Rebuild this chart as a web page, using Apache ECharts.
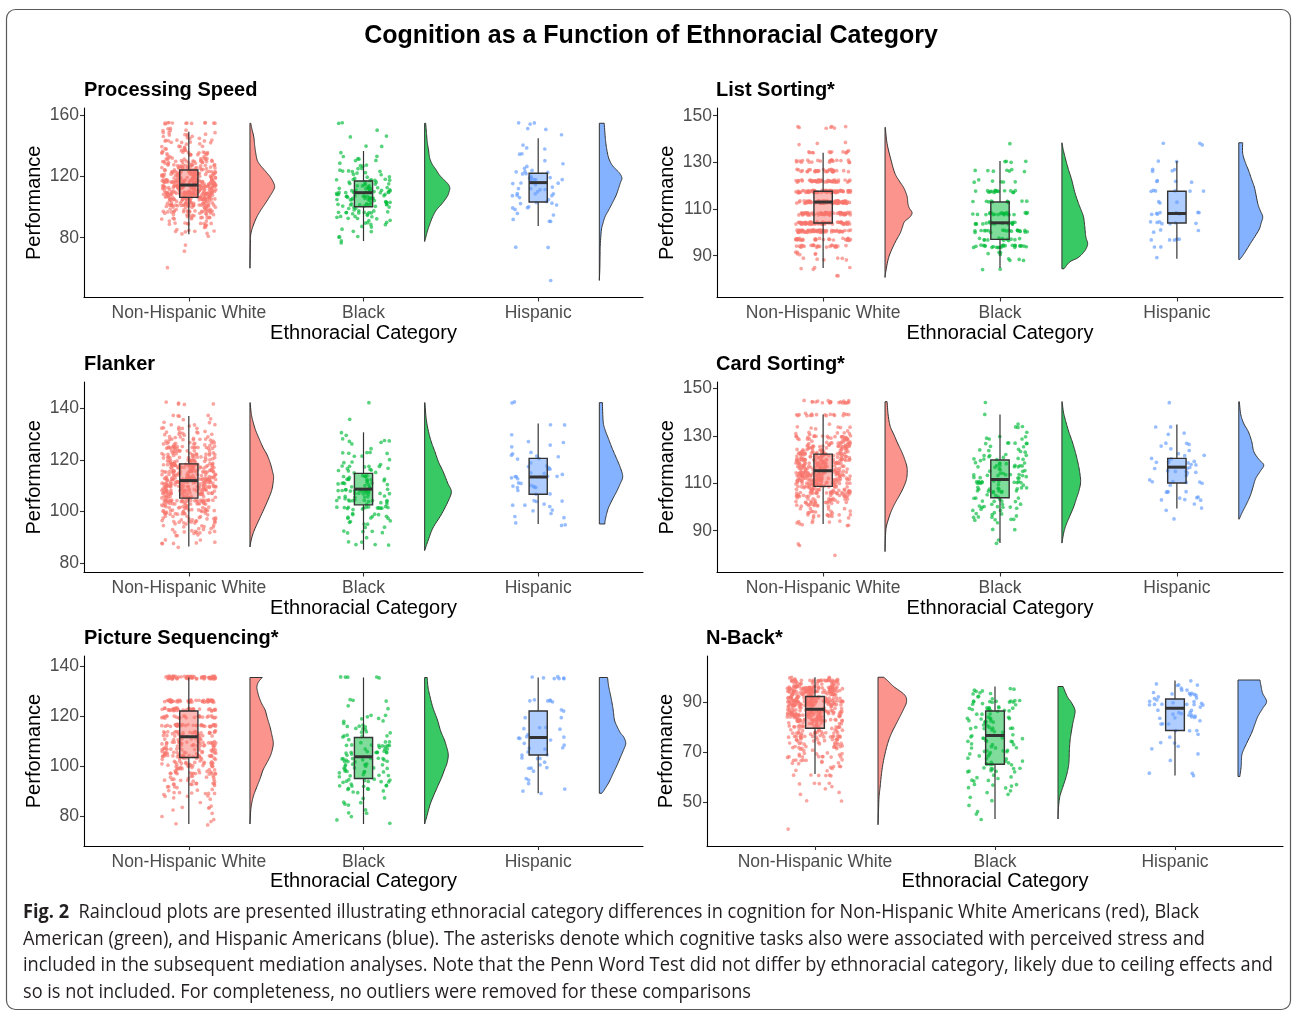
<!DOCTYPE html>
<html><head><meta charset="utf-8">
<script src="https://cdn.jsdelivr.net/npm/echarts@6/dist/echarts.min.js"></script>
<style>
html,body{margin:0;padding:0;background:#fff;}
#chart{position:absolute;left:0;top:0;width:1292px;height:1012px;}
.cl{position:absolute;left:23px;white-space:nowrap;transform-origin:0 50%;font-family:"Open Sans",sans-serif;font-size:19.5px;line-height:26px;height:26px;color:#231f20;}
</style></head>
<body>
<div id="chart"></div>
<div class="cl" data-w="1176" style="top:898px"><b>Fig. 2</b>&nbsp; Raincloud plots are presented illustrating ethnoracial category differences in cognition for Non-Hispanic White Americans (red), Black</div>
<div class="cl" data-w="1182" style="top:925px">American (green), and Hispanic Americans (blue). The asterisks denote which cognitive tasks also were associated with perceived stress and</div>
<div class="cl" data-w="1250" style="top:951px">included in the subsequent mediation analyses. Note that the Penn Word Test did not differ by ethnoracial category, likely due to ceiling effects and</div>
<div class="cl" data-w="728" style="top:978px">so is not included. For completeness, no outliers were removed for these comparisons</div>
<script>
// ---------------- DATA ----------------
const categories = ['Non-Hispanic White', 'Black', 'Hispanic'];
const panelTitles = ['Processing Speed', 'List Sorting*', 'Flanker', 'Card Sorting*', 'Picture Sequencing*', 'N-Back*'];
const mainTitle = 'Cognition as a Function of Ethnoracial Category';
const xTitle = 'Ethnoracial Category';
const yTitle = 'Performance';

// y tick labels per panel
const psTicks = [80, 120, 160];
const lsTicks = [90, 110, 130, 150];
const flTicks = [80, 100, 120, 140];
const csTicks = [90, 110, 130, 150];
const pqTicks = [80, 100, 120, 140];
const nbTicks = [50, 70, 90];

// box stats per group: [lower whisker, Q1, median, Q3, upper whisker]
const psBox = [[82.2,106.4,114.5,124.4,149.5],[77.8,100.3,109.5,117.2,136.8],[87.6,103.4,116.1,122.2,145.1]];
const lsBox = [[84.7,104,113,117.6,134.1],[84.7,97,104.1,113,130.6],[88.7,104,108.1,117.6,130.6]];
const flBox = [[86.5,105.2,112,118.5,137],[85.2,102.6,108.7,114.8,130.7],[95.2,106.7,113.4,120.6,134.1]];
const csBox = [[92.8,108.7,115.3,122.3,139],[84.8,103.9,111.6,119.8,139],[99.4,110.1,116.8,120.5,134.8]];
const pqBox = [[76.7,103.3,111.6,121.9,135.3],[76.7,94.9,103.6,111.3,135.3],[89,104.3,111.3,121.9,135.3]];
const nbBox = [[61.3,79.6,87.2,92.3,100],[43.3,65.2,76.7,86.5,96.3],[60.7,78.7,87.6,91.3,98.7]];

// raw points as [score, count]: "Bins" = 4-point-wide score bins, "Rows" = exact repeated scores
const psBins = [
  [[61,1],[73,1],[76,1],[82,4],[86,7],[90,12],[94,20],[98,30],[102,44],[106,55],[110,65],[114,68],[118,62],[122,50],[126,38],[130,27],[134,20],[138,15],[142,12],[146,10],[150,8]],
  [[78,2],[82,3],[86,5],[90,7],[94,10],[98,14],[102,18],[106,20],[110,20],[114,17],[118,13],[122,8],[126,6],[130,5],[134,3],[138,1],[142,1],[146,2],[151,1]],
  [[52,1],[72,2],[90,3],[94,2],[98,3],[102,6],[106,5],[110,6],[114,7],[118,8],[122,6],[126,3],[130,2],[134,2],[138,2],[142,1],[146,1],[150,2]]
];
const psRows = [[[155,12]], [[155,2]], [[155,3]]];

const lsBins = [[], [], []];
const lsRows = [
  [[81,2],[84.5,4],[88.5,6],[91,6],[94,25],[97,30],[100.5,60],[104,65],[108,70],[113,85],[117.5,70],[122,45],[126.5,32],[130.5,22],[134.5,12],[138,3],[145,7]],
  [[84.5,2],[88.5,4],[91,4],[94,25],[97,12],[100.5,20],[104,18],[108,22],[113,10],[117.5,16],[122,6],[126.5,7],[130.5,4],[138,1]],
  [[89,1],[94,2],[97,5],[100.5,3],[104,7],[108,9],[113,3],[117.5,6],[122,4],[126.5,4],[130.5,2],[138,3]]
];

const flBins = [
  [[88,8],[92,16],[96,28],[100,42],[104,58],[108,72],[112,78],[116,72],[120,58],[124,42],[128,28],[132,16],[136,8]],
  [[86,3],[90,5],[94,8],[98,12],[102,20],[106,26],[110,24],[114,16],[118,12],[122,8],[126,6],[130,3],[135,1]],
  [[96,4],[100,5],[104,6],[108,8],[112,9],[116,8],[120,6],[124,4],[128,3],[133,2]]
];
const flRows = [[[142,5]], [[142,1]], [[142,2]]];

const csBins = [
  [[81,1],[84,1],[86,1],[94,12],[98,22],[102,36],[106,55],[110,70],[114,78],[118,74],[122,62],[126,48],[130,32],[134,8]],
  [[86,2],[90,2],[94,8],[98,12],[102,14],[106,16],[110,18],[114,18],[118,16],[122,14],[126,10],[130,6],[134,4]],
  [[100,3],[104,6],[108,5],[112,7],[116,10],[120,9],[124,4],[128,3],[132,3],[135,1]]
];
const csRows = [[[139,18],[144.4,20]], [[139,1],[144.4,1]], [[95,1],[144.4,1]]];

const pqBins = [
  [[77,3],[80,3],[84,6],[88,12],[92,18],[96,30],[100,38],[104,48],[108,50],[112,45]],
  [[78,3],[82,3],[86,6],[90,10],[94,14],[98,16],[102,18],[106,17],[110,14],[114,10],[118,7],[122,4]],
  [[90,3],[94,3],[98,4],[102,5],[106,6],[110,8],[114,5]]
];
const pqRows = [
  [[116.1,35],[119.5,25],[122.5,35],[125.9,45],[135.3,60]],
  [[126,3],[135.3,5]],
  [[119,2],[122,2],[126,6],[135.3,7]]
];

const nbBins = [
  [[41,1],[49.5,2],[54,3],[58,5],[62,10],[66,15],[70,22],[74,30],[78,42],[82,60],[86,80],[90,100],[94,100],[98,60]],
  [[44,1],[46,2],[50,3],[54,5],[58,9],[62,12],[66,12],[70,13],[74,13],[78,13],[82,14],[86,17],[90,15],[94,10]],
  [[61,3],[66,1],[70,2],[74,3],[78,5],[82,7],[86,10],[90,14],[94,10],[97.5,6]]
];
const nbRows = [[], [], []];

// half-violin densities: [score, relative density]
const psDens = [
  [[60,0],[70,0.01],[78,0.02],[83,0.04],[89,0.15],[94,0.28],[98,0.42],[103,0.62],[107,0.77],[110,0.88],[113,0.96],[116,0.92],[120,0.78],[124,0.58],[128,0.38],[131,0.28],[136,0.22],[141,0.18],[146,0.15],[151,0.08],[155,0.03]],
  [[77.5,0],[80.6,0.05],[85,0.12],[89.4,0.21],[94,0.32],[98,0.45],[102,0.66],[107,0.88],[110,0.95],[112.5,0.98],[115,0.92],[118,0.75],[121,0.58],[124.4,0.45],[128,0.3],[132,0.2],[137.5,0.15],[143,0.1],[149,0.07],[155,0.04]],
  [[52,0],[60,0.02],[70,0.03],[76,0.04],[85,0.08],[90,0.15],[94,0.23],[98,0.36],[102.5,0.5],[108,0.66],[113.4,0.77],[116,0.82],[119,0.88],[122,0.8],[124.4,0.67],[128,0.48],[133,0.35],[140,0.27],[146,0.23],[155,0.19]]
];
const lsDens = [
  [[80.7,0],[83.9,0.04],[89.6,0.15],[95.3,0.37],[99.6,0.58],[102,0.66],[104.6,0.75],[106.5,0.95],[108.4,1.04],[110.5,0.93],[112.4,0.88],[115.3,0.85],[118.9,0.73],[122,0.55],[125.3,0.38],[131,0.23],[138,0.08],[145,0.01]],
  [[84.4,0.08],[87.4,0.31],[89,0.6],[91,0.8],[93,0.93],[95.3,0.99],[98.1,0.92],[102.4,0.88],[106.7,0.83],[109.5,0.74],[112.4,0.64],[117,0.5],[122.4,0.38],[127,0.25],[131,0.15],[135,0.06],[138.4,0]],
  [[88.4,0.04],[91,0.21],[95.3,0.45],[101,0.77],[104,0.86],[106.7,0.92],[109.5,0.82],[112.4,0.73],[118.9,0.61],[122.5,0.5],[126.7,0.37],[130,0.25],[133.9,0.15],[138.4,0.15]]
];
const flDens = [
  [[86.3,0],[89,0.05],[92.3,0.15],[97.4,0.38],[102.6,0.62],[107.7,0.83],[111,0.9],[113.5,0.92],[115.5,0.88],[118.5,0.8],[121.9,0.67],[125,0.5],[128.4,0.35],[131.5,0.22],[134.8,0.12],[138,0.05],[142.2,0.01]],
  [[84.9,0],[88.4,0.12],[93.6,0.32],[98.7,0.64],[103.9,0.91],[107.7,1.04],[111,0.9],[115.5,0.72],[119,0.55],[123.2,0.4],[127,0.26],[131,0.15],[136,0.06],[142.2,0.01]],
  [[95.2,0.22],[96.1,0.22],[98.5,0.27],[101.3,0.35],[104.5,0.5],[107.7,0.67],[110.5,0.8],[113.5,0.91],[117,0.82],[120.6,0.67],[124.5,0.5],[128.4,0.35],[131.5,0.23],[134.8,0.15],[142.2,0.12]]
];
const csDens = [
  [[81.2,0],[86,0.01],[91,0.04],[94.5,0.12],[98,0.23],[101.5,0.38],[105,0.56],[108.5,0.72],[112,0.83],[116.3,0.85],[120,0.76],[123.3,0.64],[127,0.48],[130.3,0.35],[134,0.2],[138.8,0.12],[144.4,0.08]],
  [[84.8,0],[89.6,0.08],[93,0.18],[96.6,0.32],[100,0.45],[103.6,0.56],[107,0.66],[110.7,0.72],[115,0.68],[119,0.61],[123,0.52],[127.5,0.4],[131.5,0.27],[136,0.15],[140,0.06],[144.4,0.01]],
  [[94.9,0.02],[97,0.1],[99.4,0.21],[102,0.33],[105,0.45],[108.5,0.55],[112,0.65],[115,0.82],[117.7,0.96],[120,0.78],[123.3,0.58],[127.5,0.5],[131.7,0.37],[135,0.2],[138.8,0.08],[144.4,0.02]]
];
const pqDens = [
  [[76.7,0],[82,0.03],[85,0.07],[88,0.14],[91.6,0.27],[95,0.4],[98.3,0.51],[101,0.65],[103.6,0.78],[106,0.86],[109,0.91],[112,0.86],[115.6,0.78],[119,0.68],[122.3,0.59],[125,0.45],[127.6,0.35],[130,0.29],[131.6,0.27],[133.5,0.33],[135.3,0.48]],
  [[76.7,0],[79.6,0.08],[85,0.23],[91.6,0.5],[95,0.65],[98.3,0.77],[101,0.87],[104.3,0.92],[107,0.87],[110.3,0.77],[114,0.62],[118.3,0.5],[123,0.33],[127.6,0.21],[131.5,0.13],[135.3,0.1]],
  [[89,0.1],[90.3,0.19],[93.5,0.38],[97,0.54],[100,0.68],[103.6,0.83],[106.5,0.95],[109,1.03],[111.5,0.95],[113,0.83],[115.5,0.7],[118.3,0.59],[122.3,0.54],[126,0.48],[129,0.42],[132,0.36],[135.3,0.32]]
];
const nbDens = [
  [[41,0],[47,0.02],[52.3,0.04],[56,0.08],[60.3,0.12],[65,0.18],[69.6,0.27],[74,0.38],[77.6,0.51],[81,0.67],[84.3,0.83],[87.5,0.98],[90.3,1.08],[93,1.0],[96.3,0.59],[98.5,0.38],[100,0.22]],
  [[43.3,0],[48,0.02],[52.3,0.07],[56,0.18],[60.3,0.31],[64,0.39],[67,0.42],[71,0.43],[75,0.46],[78.5,0.51],[81.6,0.56],[84.5,0.62],[87,0.64],[90,0.5],[92.3,0.35],[96.3,0.19]],
  [[60.3,0.07],[64.3,0.12],[67,0.13],[69.6,0.16],[73,0.3],[77.6,0.51],[81,0.63],[84.3,0.75],[87.5,0.93],[90.3,1.08],[93.6,0.93],[96.5,0.87],[98.9,0.83]]
];

// ---------------- LAYOUT / STYLE ----------------
const COLORS = ['#F8766D', '#00BA38', '#619CFF'];
const FONT = '"Liberation Sans", Arial, Helvetica, sans-serif';
const layout = [
  {left:84,  top:108, width:559, height:189.5, yMin:40.8, yMax:165.0, nameGap:40, tx:84,  ty:90},
  {left:717, top:108, width:566, height:189.5, yMin:72.1, yMax:153.3, nameGap:40, tx:716, ty:90},
  {left:84,  top:382, width:559, height:190.5, yMin:76.4, yMax:150.2, nameGap:40, tx:84,  ty:364},
  {left:717, top:382, width:566, height:190.5, yMin:72.4, yMax:152.7, nameGap:40, tx:716, ty:364},
  {left:84,  top:656, width:559, height:190,   yMin:67.9, yMax:143.9, nameGap:40, tx:84,  ty:638},
  {left:707, top:656, width:576, height:190,   yMin:32.5, yMax:108.5, nameGap:31, tx:706, ty:638}
];
const panels = [
  {ticks: psTicks, box: psBox, bins: psBins, rows: psRows, dens: psDens},
  {ticks: lsTicks, box: lsBox, bins: lsBins, rows: lsRows, dens: lsDens},
  {ticks: flTicks, box: flBox, bins: flBins, rows: flRows, dens: flDens},
  {ticks: csTicks, box: csBox, bins: csBins, rows: csRows, dens: csDens},
  {ticks: pqTicks, box: pqBox, bins: pqBins, rows: pqRows, dens: pqDens},
  {ticks: nbTicks, box: nbBox, bins: nbBins, rows: nbRows, dens: nbDens}
];
const X_MIN = 0.4, X_MAX = 3.6;
const JIT = 0.155;      // horizontal jitter half-width (x units)
const BIN_SPREAD = 4;   // vertical spread of a 4-point bin
const ROW_SPREAD = 1.1; // vertical spread of a repeated exact score
const BOX_HW = 0.052;
const V_OFF = 0.35, V_W = 0.147;

function rgba(hex, a){
  const n = parseInt(hex.slice(1), 16);
  return 'rgba(' + (n >> 16) + ',' + ((n >> 8) & 255) + ',' + (n & 255) + ',' + a + ')';
}
// deterministic integer hash used for jitter placement (positions only, like geom_jitter)
function hash01(n){
  n = (n ^ 61) ^ (n >>> 16);
  n = n + (n << 3);
  n = n ^ (n >>> 4);
  n = Math.imul(n, 0x27d4eb2d);
  n = n ^ (n >>> 15);
  return (n >>> 0) / 4294967296;
}

function makePoints(cx, bins, rows, seed){
  const out = []; let i = seed;
  const add = (list, spread) => {
    for (const [v, c] of list) {
      for (let k = 0; k < c; k++) {
        i++;
        const jx = hash01(i * 2 + 7) - 0.5;
        const jy = hash01(i * 2 + 8) - 0.5;
        out.push([cx + jx * 2 * JIT, v + jy * spread]);
      }
    }
  };
  add(bins, BIN_SPREAD); add(rows, ROW_SPREAD);
  return out;
}

function smoothCurve(p, minX){
  const out = []; const n = p.length;
  const f = (a, b, c, d, t) => { const t2 = t*t, t3 = t2*t;
    return 0.5*((2*b) + (-a + c)*t + (2*a - 5*b + 4*c - d)*t2 + (-a + 3*b - 3*c + d)*t3); };
  for (let i = 0; i < n - 1; i++) {
    const p0 = p[Math.max(i-1, 0)], p1 = p[i], p2 = p[i+1], p3 = p[Math.min(i+2, n-1)];
    for (let s = 0; s < 8; s++) {
      const t = s / 8;
      out.push([Math.max(minX, f(p0[0], p1[0], p2[0], p3[0], t)), f(p0[1], p1[1], p2[1], p3[1], t)]);
    }
  }
  out.push(p[n-1]);
  return out;
}

const grids = [], xAxes = [], yAxes = [], series = [], graphics = [];

graphics.push({type:'rect', silent:true, z:0,
  shape:{x:6.5, y:9.5, width:1284, height:1000, r:9},
  style:{fill:'none', stroke:'#5a5a5a', lineWidth:1.2}});
graphics.push({type:'text', silent:true, x:651, y:36,
  style:{text:mainTitle, font:'bold 25px ' + FONT, fill:'#000', align:'center', verticalAlign:'middle', textAlign:'center', textVerticalAlign:'middle'}});

panels.forEach((P, pi) => {
  const L = layout[pi];
  grids.push({left:L.left, top:L.top, width:L.width, height:L.height, containLabel:false, outerBoundsMode:'none'});
  xAxes.push({
    type:'value', gridIndex:pi, min:X_MIN, max:X_MAX,
    name:xTitle, nameLocation:'middle', nameGap:25,
    nameTextStyle:{fontSize:20, color:'#000', fontFamily:FONT},
    axisLine:{show:true, onZero:false, lineStyle:{color:'#000', width:1.1}},
    axisTick:{show:true, length:4, customValues:[1,2,3], lineStyle:{color:'#333', width:1.1}},
    axisLabel:{customValues:[1,2,3], formatter:v => categories[Math.round(v)-1] || '', fontSize:17.5, color:'#4D4D4D', fontFamily:FONT, margin:7},
    splitLine:{show:false}
  });
  yAxes.push({
    type:'value', gridIndex:pi, min:L.yMin, max:L.yMax,
    name:yTitle, nameLocation:'middle', nameGap:L.nameGap,
    nameTextStyle:{fontSize:20, color:'#000', fontFamily:FONT},
    axisLine:{show:true, onZero:false, lineStyle:{color:'#000', width:1.1}},
    axisTick:{show:true, length:4, customValues:P.ticks, lineStyle:{color:'#333', width:1.1}},
    axisLabel:{customValues:P.ticks, fontSize:17.5, color:'#4D4D4D', fontFamily:FONT, margin:5},
    splitLine:{show:false}
  });
  graphics.push({type:'text', silent:true, x:L.tx, y:L.ty,
    style:{text:panelTitles[pi], font:'bold 20px ' + FONT, fill:'#000', align:'left', verticalAlign:'middle', textAlign:'left', textVerticalAlign:'middle'}});

  for (let g = 0; g < 3; g++) {
    const cx = g + 1;
    const col = COLORS[g];
    // rain (points)
    series.push({type:'scatter', xAxisIndex:pi, yAxisIndex:pi, silent:true, z:2,
      symbol:'circle', symbolSize:3.7,
      itemStyle:{color:rgba(col, 0.82)},
      data:makePoints(cx, P.bins[g], P.rows[g], pi*1000 + g*313)});
    // cloud (half violin)
    const dens = P.dens[g];
    series.push({type:'custom', xAxisIndex:pi, yAxisIndex:pi, silent:true, z:2,
      data:[[cx + V_OFF, dens[0][0]]],
      renderItem:(params, api) => {
        const base = cx + V_OFF;
        const bx = api.coord([base, dens[0][0]])[0];
        const pts = dens.map(([y, d]) => api.coord([base + d * V_W, y]));
        const curve = smoothCurve(pts, bx);
        const poly = [[bx, pts[0][1]]].concat(curve, [[bx, pts[pts.length-1][1]]]);
        return {type:'polygon', shape:{points:poly},
          style:{fill:rgba(col, 0.78), stroke:'#333', lineWidth:1}};
      }});
    // box
    const b = P.box[g];
    series.push({type:'custom', xAxisIndex:pi, yAxisIndex:pi, silent:true, z:3,
      data:[[cx, b[2]]],
      renderItem:(params, api) => {
        const pl = api.coord([cx - BOX_HW, b[1]]);
        const pr = api.coord([cx + BOX_HW, b[3]]);
        const xc = api.coord([cx, b[0]])[0];
        const ylo = api.coord([cx, b[0]])[1], yq1 = pl[1], ymed = api.coord([cx, b[2]])[1], yq3 = pr[1], yhi = api.coord([cx, b[4]])[1];
        const ln = {stroke:'#333', lineWidth:1.2};
        return {type:'group', children:[
          {type:'line', shape:{x1:xc, y1:ylo, x2:xc, y2:yq1}, style:ln},
          {type:'line', shape:{x1:xc, y1:yq3, x2:xc, y2:yhi}, style:ln},
          {type:'rect', shape:{x:pl[0], y:yq3, width:pr[0]-pl[0], height:yq1-yq3}, style:{fill:rgba(col, 0.5), stroke:'#333', lineWidth:1.4}},
          {type:'line', shape:{x1:pl[0], y1:ymed, x2:pr[0], y2:ymed}, style:{stroke:'#333', lineWidth:3}}
        ]};
      }});
  }
});

const chart = echarts.init(document.getElementById('chart'), null, {renderer:'canvas'});
chart.setOption({
  animation:false,
  backgroundColor:'#fff',
  textStyle:{fontFamily:FONT},
  grid:grids, xAxis:xAxes, yAxis:yAxes, series:series, graphic:graphics
});

// fit caption lines to the reference line widths
document.querySelectorAll('.cl').forEach(el => {
  const w = el.getBoundingClientRect().width;
  const target = +el.dataset.w;
  el.style.transform = 'scaleX(' + (target / w) + ')';
});
</script>
</body></html>
